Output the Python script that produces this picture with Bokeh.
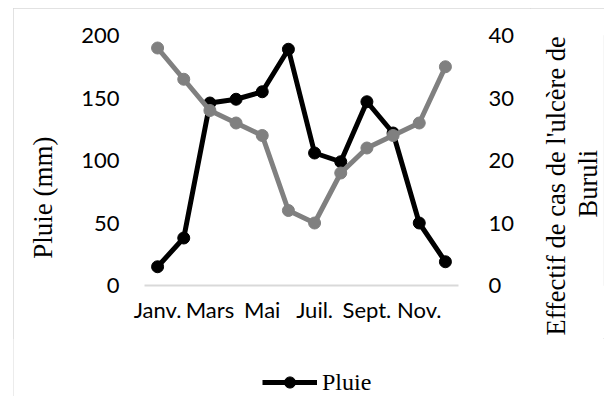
from bokeh.plotting import figure
from bokeh.layouts import column, row
from bokeh.models import (Range1d, LinearAxis, FixedTicker, Legend, LegendItem, Title)
from bokeh.embed import file_html
from bokeh.resources import INLINE

# ---- data ----
months = ["Janv.", "Févr.", "Mars", "Avr.", "Mai", "Juin",
          "Juil.", "Août", "Sept.", "Oct.", "Nov.", "Déc."]
pluie = [15, 38, 146, 149, 155, 189, 106, 99, 147, 122, 50, 19]
cas_buruli = [38, 33, 28, 26, 24, 12, 10, 18, 22, 24, 26, 35]
left_ticks = [0, 50, 100, 150, 200]
right_ticks = [0, 10, 20, 30, 40]
shown_tick_idx = [1, 3, 5, 7, 9, 11]
left_title = "Pluie (mm)"
right_title_lines = ["Effectif de cas de l'ulcère de", "Buruli"]
legend_label = "Pluie"

x = list(range(1, len(months) + 1))

SERIF = "Liberation Serif"
SANS = "Lato"
NB = "\u00a0"
BLACK = "black"
GREY = "#808080"
TICK_SIZE = "22px"
TITLE_SIZE = "26.5px"

# ---------------- main chart ----------------
MAIN_W, MAIN_H = 517, 330
BT, BB = 27, 53
p = figure(width=MAIN_W, height=MAIN_H, output_backend="svg", toolbar_location=None,
           x_range=Range1d(0.5, len(months) + 0.5), y_range=Range1d(0, 200),
           min_border_left=131, min_border_right=72, min_border_top=BT,
           min_border_bottom=BB)
p.extra_y_ranges = {"right": Range1d(0, 40)}
p.outline_line_color = None
p.xgrid.grid_line_color = None
p.ygrid.grid_line_color = None

xa = p.xaxis[0]
xa.ticker = FixedTicker(ticks=shown_tick_idx)
xa.major_label_overrides = {i: months[i - 1] for i in shown_tick_idx}
xa.axis_line_color = "#d9d9d9"
xa.axis_line_width = 2
xa.major_tick_line_color = None
xa.minor_tick_line_color = None
xa.major_label_standoff = 4
xa.major_label_text_font = SANS
xa.major_label_text_font_size = TICK_SIZE
xa.major_label_text_color = BLACK

ya = p.yaxis[0]
ya.ticker = FixedTicker(ticks=left_ticks)
ya.axis_line_color = None
ya.major_tick_line_color = None
ya.minor_tick_line_color = None
ya.major_label_standoff = 19
ya.major_label_text_font = SANS
ya.major_label_text_font_size = TICK_SIZE
ya.major_label_text_color = BLACK
ya.axis_label = left_title + NB * 11
ya.axis_label_standoff = 20
ya.axis_label_text_font = SERIF
ya.axis_label_text_font_size = "27px"
ya.axis_label_text_font_style = "normal"
ya.axis_label_text_color = BLACK

ra = LinearAxis(y_range_name="right", ticker=FixedTicker(ticks=right_ticks))
ra.axis_line_color = None
ra.major_tick_line_color = None
ra.minor_tick_line_color = None
ra.major_label_standoff = 24
ra.major_label_text_font = SANS
ra.major_label_text_font_size = TICK_SIZE
ra.major_label_text_color = BLACK
p.add_layout(ra, "right")

p.line(x, pluie, line_color=BLACK, line_width=5)
p.scatter(x, pluie, size=12, fill_color=BLACK, line_color=BLACK)
p.line(x, cas_buruli, line_color=GREY, line_width=5, y_range_name="right")
p.scatter(x, cas_buruli, size=12, fill_color=GREY, line_color=GREY, y_range_name="right")

# ---------------- right axis title (reads bottom to top) ----------------
RT_W = 74
rt = figure(width=RT_W, height=MAIN_H, output_backend="svg", toolbar_location=None,
            x_range=Range1d(0, 1), y_range=Range1d(0, 1),
            x_axis_location=None, y_axis_location=None,
            min_border_left=RT_W - 1, min_border_right=0,
            min_border_top=BT, min_border_bottom=BB)
rt.outline_line_color = None
rt.grid.visible = False
# inner line first (closest to the frame), outer line second
for txt, off in [(right_title_lines[1], 68), (right_title_lines[0], -50)]:
    rt.add_layout(Title(text=txt, align="left", offset=off, standoff=0,
                        vertical_align="middle", text_font=SERIF,
                        text_font_size=TITLE_SIZE, text_font_style="normal",
                        text_color=BLACK), "left")

# ---------------- legend panel ----------------
LG_W, LG_H = MAIN_W + RT_W, 58
lg = figure(width=LG_W, height=LG_H, output_backend="svg", toolbar_location=None,
            x_range=Range1d(100, 101), y_range=Range1d(1000, 1001),
            x_axis_location=None, y_axis_location=None, min_border=0)
lg.outline_line_color = None
lg.grid.visible = False
lr = lg.line(x, pluie, line_color=BLACK, line_width=5)
sr = lg.scatter(x, pluie, size=12, fill_color=BLACK, line_color=BLACK)
legend = Legend(items=[LegendItem(label=legend_label, renderers=[lr, sr])],
                location=(249, 0), orientation="horizontal",
                glyph_width=55, glyph_height=28, label_standoff=5,
                padding=0, margin=0, border_line_alpha=0, background_fill_alpha=0,
                label_text_font=SERIF, label_text_font_size="24px",
                label_text_color=BLACK)
lg.add_layout(legend, "center")

layout = column(row(p, rt), lg)
layout.styles = {"margin-left": "13px", "margin-top": "8px",
                 "outline": "1px solid #d9d9d9", "outline-offset": "-1px"}

open("out.html", "w").write(file_html(layout, INLINE))
